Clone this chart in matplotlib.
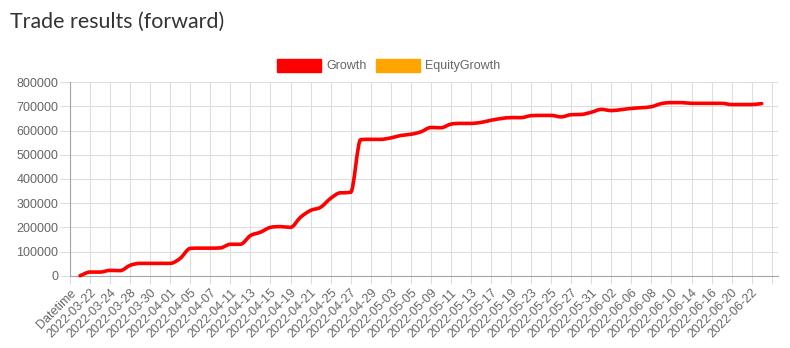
import numpy as np
import matplotlib
matplotlib.use("Agg")
import matplotlib.pyplot as plt
from matplotlib.path import Path
from matplotlib.patches import PathPatch, Patch

# ---- data ----
tick_labels = ["Datetime", "2022-03-22", "2022-03-24", "2022-03-28", "2022-03-30",
               "2022-04-01", "2022-04-05", "2022-04-07", "2022-04-11", "2022-04-13",
               "2022-04-15", "2022-04-19", "2022-04-21", "2022-04-25", "2022-04-27",
               "2022-04-29", "2022-05-03", "2022-05-05", "2022-05-09", "2022-05-11",
               "2022-05-13", "2022-05-17", "2022-05-19", "2022-05-23", "2022-05-25",
               "2022-05-27", "2022-05-31", "2022-06-02", "2022-06-06", "2022-06-08",
               "2022-06-10", "2022-06-14", "2022-06-16", "2022-06-20", "2022-06-22"]
growth = [0, 15000, 15000, 22000, 21000, 43000, 51000, 51000, 51000, 51000,
          72000, 113000, 114000, 114000, 115000, 130000, 130000, 166000, 180000, 200000,
          203000, 200000, 242000, 270000, 283000, 320000, 343000, 345000, 563000, 564000,
          564000, 570000, 580000, 585000, 595000, 613000, 612000, 627000, 630000, 630000,
          634000, 643000, 650000, 654000, 654000, 662000, 663000, 663000, 657000, 666000,
          667000, 676000, 688000, 683000, 687000, 692000, 695000, 699000, 712000, 716000,
          716000, 713000, 713000, 713000, 713000, 708000, 708000, 708000, 712000]
equity_growth = []
series_names = ["Growth", "EquityGrowth"]
series_colors = ["#ff0000", "#ffa500"]

W, H, DPI = 790, 348, 100
fig = plt.figure(figsize=(W / DPI, H / DPI), dpi=DPI)
left, right, bottom, top = 70, 778, 275.7, 82.3
ax = fig.add_axes([left / W, 1 - bottom / H, (right - left) / W, (bottom - top) / H])

n_cat = 2 * len(tick_labels) + 1  # category slots on the axis
xpx = (771.7 - 69.7) / (n_cat - 1)
xmax = (n_cat - 1) + (right - 771.7) / xpx
ax.set_xlim(0, xmax)
ax.set_ylim(0, 800000)

# monotone cubic interpolation (Chart.js style)
xs = np.arange(1, len(growth) + 1, dtype=float)
ys = np.array(growth, dtype=float)
n = len(xs)
dk = np.zeros(n)
for i in range(n - 1):
    dk[i] = (ys[i + 1] - ys[i]) / (xs[i + 1] - xs[i])
mk = np.zeros(n)
for i in range(n):
    if i == 0:
        mk[i] = dk[i]
    elif i == n - 1:
        mk[i] = dk[i - 1]
    elif np.sign(dk[i - 1]) != np.sign(dk[i]):
        mk[i] = 0.0
    else:
        mk[i] = (dk[i - 1] + dk[i]) / 2
for i in range(n - 1):
    if abs(dk[i]) < 1e-9:
        mk[i] = mk[i + 1] = 0.0
        continue
    a = mk[i] / dk[i]
    b = mk[i + 1] / dk[i]
    sq = a * a + b * b
    if sq <= 9:
        continue
    tau = 3 / np.sqrt(sq)
    mk[i] = a * tau * dk[i]
    mk[i + 1] = b * tau * dk[i]
verts = [(xs[0], ys[0])]
codes = [Path.MOVETO]
for i in range(n - 1):
    dx = (xs[i + 1] - xs[i]) / 3
    verts += [(xs[i] + dx, ys[i] + dx * mk[i]),
              (xs[i + 1] - dx, ys[i + 1] - dx * mk[i + 1]),
              (xs[i + 1], ys[i + 1])]
    codes += [Path.CURVE4] * 3
path = Path(verts, codes)
ax.add_patch(PathPatch(path, facecolor="none", edgecolor=series_colors[0], lw=2.6,
                       capstyle="round", joinstyle="round", zorder=3, clip_on=False))

# grid and ticks
grid_c = "#dedede"
ax.set_xticks(np.arange(0, n_cat, 2))
ax.set_xticklabels(tick_labels + [""], rotation=45, ha="right", va="top",
                   rotation_mode="anchor", fontsize=9, color="#666666",
                   family="Liberation Sans")
ax.set_yticks(np.arange(0, 800001, 100000))
ax.set_yticklabels([str(v) for v in range(0, 800001, 100000)], fontsize=9,
                   color="#666666", family="Liberation Sans")
ax.grid(True, color=grid_c, lw=0.8)
ax.set_axisbelow(True)
ax.tick_params(axis="x", length=6, width=0.8, color=grid_c, pad=2)
ax.tick_params(axis="y", length=7.5, width=0.8, color=grid_c, pad=1)
for s in ["top", "right"]:
    ax.spines[s].set_visible(False)
for s in ["left", "bottom"]:
    ax.spines[s].set_color("#a6a6a6")
    ax.spines[s].set_linewidth(0.8)

# legend
handles = [Patch(facecolor=c, edgecolor=c, label=nm) for c, nm in zip(series_colors, series_names)]
leg = fig.legend(handles=handles, loc="center", bbox_to_anchor=(389 / W, 1 - 65.5 / H),
                 ncol=2, frameon=False, handlelength=3.5, handleheight=1.2,
                 handletextpad=0.45, columnspacing=0.7,
                 prop={"family": "Liberation Sans", "size": 9})
for txt in leg.get_texts():
    txt.set_color("#666666")

fig.text(10 / W, 1 - 22 / H, "Trade results (forward)", fontsize=15.4, family="Lato",
         color="#333333", ha="left", va="center")

fig.savefig("out.png", dpi=DPI)
